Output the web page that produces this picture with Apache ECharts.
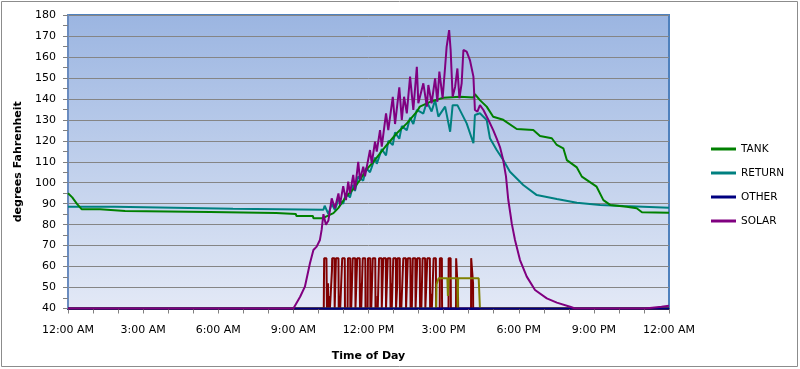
<!DOCTYPE html>
<html><head><meta charset="utf-8">
<script src="https://cdn.jsdelivr.net/npm/echarts@6/dist/echarts.min.js"></script>
<style>html,body{margin:0;padding:0;background:#fff}#c{width:800px;height:369px}</style>
</head><body><div id="c"></div>
<script>
// x = hour of day (0-24), y = degrees F
const hourLabels = ['12:00 AM','3:00 AM','6:00 AM','9:00 AM','12:00 PM','3:00 PM','6:00 PM','9:00 PM','12:00 AM'];
const legendNames = ['TANK','RETURN','OTHER','SOLAR'];

const tank = [[0,95],[0.17,93],[0.35,90],[0.55,87.3],[1.28,87.3],[1.3,86.5],[2.28,86.5],[2.3,86],[5.67,86],[5.7,85.5],[8.31,85.5],[8.35,85.1],[9.1,85.1],[9.12,84.1],[9.78,84.1],[9.8,83.1],[10.2,83.1],[10.3,83.8],[10.6,85.5],[10.8,88],[11.1,93.3],[11.4,97],[11.66,101.3],[11.9,106],[12.2,110],[12.46,114],[12.73,118],[13.13,123.6],[13.53,128.3],[13.93,133.9],[14.05,136.3],[14.46,138.6],[14.99,140.5],[15.66,141],[16.19,140.7],[16.25,142.2],[16.45,139.4],[16.72,136.3],[16.98,131.5],[17.38,130],[17.92,125.6],[18.58,125.1],[18.85,122.3],[19.32,121.2],[19.52,118],[19.78,116.4],[19.92,110.8],[20.32,107.3],[20.52,102.9],[21.11,98.1],[21.38,91.7],[21.65,89.4],[22.31,88.5],[22.71,87.8],[22.92,85.9],[24,85.7]];

const ret = [[0,88.5],[1.87,88.5],[1.9,87.6],[6.59,87.6],[6.6,87.2],[10.2,87.1],[10.25,89],[10.4,85],[10.53,90],[10.66,87],[10.8,92],[10.99,90],[11.1,95],[11.26,93],[11.39,99],[11.46,96],[11.59,103],[11.79,101],[11.9,107],[12.06,105],[12.26,112],[12.33,109],[12.53,116],[12.7,113],[12.79,120],[12.97,118],[13.06,124],[13.23,121],[13.33,127],[13.53,125],[13.66,131],[13.79,128],[13.93,134.7],[14.19,133],[14.33,138.6],[14.52,134],[14.66,139.4],[14.79,131.5],[15.06,136.3],[15.26,124.3],[15.36,137],[15.55,137],[15.92,128.3],[16.19,118.8],[16.25,132.3],[16.45,133.1],[16.72,129.9],[16.85,121.2],[17.12,115.6],[17.38,110.8],[17.65,105.2],[18.18,98.9],[18.72,94.1],[19.52,92.2],[20.32,90.4],[21.25,89.4],[22.18,88.9],[24,88.1]];

const other = [[0,40],[24,40]];

const solar = [[0,40],[9.0,40],[9.27,45.6],[9.46,50.4],[9.66,61.5],[9.8,67.9],[9.93,69.5],[10.06,72.7],[10.13,77.6],[10.2,85],[10.3,80],[10.4,82],[10.53,92.5],[10.66,87.8],[10.8,94.9],[10.86,89.4],[10.99,98.4],[11.1,91.7],[11.19,100.5],[11.26,94.9],[11.39,103.7],[11.46,96.5],[11.59,110],[11.66,101.3],[11.79,107.6],[11.86,103],[12.06,115.6],[12.13,109.2],[12.26,119.6],[12.33,114.8],[12.46,125.1],[12.53,117.2],[12.7,133.1],[12.79,125.1],[12.97,141],[13.06,128],[13.23,145.5],[13.33,130],[13.42,141],[13.53,133.1],[13.66,150.6],[13.79,134.7],[13.93,155.3],[13.99,137.9],[14.19,147.4],[14.33,136.3],[14.39,146.6],[14.52,137.9],[14.66,149.8],[14.75,138.6],[14.83,153],[14.96,140.3],[15.06,155.3],[15.12,164.8],[15.22,172.8],[15.28,163.3],[15.36,141],[15.46,145.8],[15.55,154.5],[15.63,140.3],[15.72,147.4],[15.79,163.3],[15.92,162.5],[16.05,158.5],[16.19,150.6],[16.25,134.7],[16.35,133.9],[16.45,137],[16.59,134.7],[16.79,129.9],[16.98,125.1],[17.12,121],[17.25,117],[17.38,110.8],[17.49,103],[17.58,92],[17.68,84],[17.72,80.6],[17.85,72.7],[18.05,63.1],[18.32,55.2],[18.65,48.8],[19.12,44.8],[19.52,42.8],[20.05,40.8],[20.25,40],[23.05,40],[23.12,40.8],[23.7,40.8],[23.77,41.3],[24,41.3]];

const pump = [[0,40],
[10.215,40],[10.22,52],[10.23,64],[10.32,64],[10.33,52],[10.34,40],[10.38,40],[10.385,52],[10.39,40],
[10.445,40],[10.45,46],[10.46,40],
[10.535,40],[10.54,58],[10.55,64],[10.64,64],[10.645,46],[10.65,40],
[10.695,40],[10.7,64],[10.8,64],[10.805,52],[10.81,40],[10.86,40],[10.865,46],[10.87,40],
[10.945,40],[10.95,64],[11.05,64],[11.055,58],[11.06,40],
[11.165,40],[11.17,52],[11.18,64],[11.27,64],[11.275,40],[11.3,40],[11.305,47],[11.31,40],
[11.365,40],[11.37,64],[11.47,64],[11.475,52],[11.48,40],
[11.545,40],[11.55,64],[11.65,64],[11.655,46],[11.66,40],[11.7,40],[11.705,52],[11.71,40],
[11.765,40],[11.77,64],[11.87,64],[11.875,58],[11.88,40],
[11.965,40],[11.97,52],[11.98,64],[12.07,64],[12.075,40],[12.1,40],[12.105,47],[12.11,40],
[12.165,40],[12.17,64],[12.27,64],[12.275,52],[12.28,40],
[12.36,40],[12.365,46],[12.37,40],[12.415,40],[12.42,64],[12.52,64],[12.525,58],[12.53,40],
[12.585,40],[12.59,64],[12.69,64],[12.695,52],[12.7,40],
[12.765,40],[12.77,64],[12.87,64],[12.875,46],[12.88,40],[12.92,40],[12.925,52],[12.93,40],
[12.985,40],[12.99,64],[13.09,64],[13.095,58],[13.1,40],
[13.145,40],[13.15,52],[13.16,64],[13.25,64],[13.255,40],[13.3,40],[13.305,47],[13.31,40],
[13.385,40],[13.39,64],[13.49,64],[13.495,52],[13.5,40],
[13.565,40],[13.57,64],[13.67,64],[13.675,58],[13.68,40],[13.72,40],[13.725,46],[13.73,40],
[13.765,40],[13.77,64],[13.87,64],[13.875,52],[13.88,40],
[13.945,40],[13.95,64],[14.05,64],[14.055,46],[14.06,40],[14.1,40],[14.105,52],[14.11,40],
[14.155,40],[14.16,64],[14.26,64],[14.265,58],[14.27,40],
[14.345,40],[14.35,64],[14.45,64],[14.455,52],[14.46,40],[14.52,40],[14.525,47],[14.53,40],
[14.595,40],[14.6,64],[14.69,64],[14.695,52],[14.7,40],
[14.845,40],[14.85,64],[14.93,64],[14.935,46],[14.94,40],
[15.195,40],[15.2,64],[15.28,64],[15.285,52],[15.29,40],
[15.495,40],[15.5,64],[15.57,64],[15.575,46],[15.58,40],
[16.095,40],[16.1,64],[16.17,64],[16.175,52],[16.18,40],[24,40]];

const aux = [[0,40],[14.7,40],[14.72,51.6],[14.8,54.4],[15.15,54.4],[15.17,46],[15.2,54.4],[15.55,54.4],[15.56,40],[15.58,54.4],[16.4,54.4],[16.45,40],[24,40]];

const chart = echarts.init(document.getElementById('c'), null, {renderer:'canvas'});
const font = 'DejaVu Sans';
function line(name, data, color){
  return {name:name, type:'line', data:data, symbol:'none', animation:false,
    lineStyle:{color:color, width:2}, itemStyle:{color:color}};
}
chart.setOption({
  animation:false,
  textStyle:{fontFamily:font},
  graphic:[{type:'rect', shape:{x:1.5,y:1.5,width:796,height:365}, style:{fill:'none', stroke:'#8c8c8c', lineWidth:1}, silent:true, z:-10}],
  grid:{left:68, top:15, right:131, bottom:60.5, show:true, borderColor:'#4f81bd', borderWidth:2,
    backgroundColor:new echarts.graphic.LinearGradient(0,0,0,1,[{offset:0,color:'#9bb5e1'},{offset:1,color:'#e3e9f6'}])},
  legend:{data:legendNames, orient:'vertical', left:706, top:137, icon:'rect', itemWidth:25, itemHeight:3, itemGap:10,
    textStyle:{fontFamily:font, fontSize:10.5, color:'#000', lineHeight:14}},
  xAxis:{type:'value', min:0, max:24, interval:1,
    name:'Time of Day', nameLocation:'middle', nameGap:42,
    nameTextStyle:{fontFamily:font, fontSize:11, fontWeight:'bold', color:'#000'},
    axisLine:{show:true, lineStyle:{color:'#000080', width:2}},
    axisTick:{show:true, length:5, lineStyle:{color:'#808080'}},
    splitLine:{show:false},
    axisLabel:{margin:16, fontSize:11, color:'#000', fontFamily:font, showMinLabel:true, showMaxLabel:true,
      formatter:function(v){ return (v % 3 === 0) ? hourLabels[v/3] : ''; }}},
  yAxis:{type:'value', min:40, max:180, interval:10,
    name:'degrees Fahrenheit', nameLocation:'middle', nameGap:44,
    nameTextStyle:{fontFamily:font, fontSize:11, fontWeight:'bold', color:'#000'},
    axisLine:{show:true, lineStyle:{color:'#6a8cc0', width:2}},
    axisTick:{show:true, length:5, lineStyle:{color:'#808080'}},
    minorTick:{show:true, splitNumber:2, length:5, lineStyle:{color:'#808080'}},
    splitLine:{show:true, lineStyle:{color:'#858585', width:1}},
    axisLabel:{margin:12, fontSize:11, color:'#000', fontFamily:font}},
  series:[
    Object.assign(line('', pump, '#800000'), {legendHoverLink:false}),
    Object.assign(line(' ', aux, '#808000'), {legendHoverLink:false}),
    line('RETURN', ret, '#008080'),
    line('TANK', tank, '#008000'),
    line('OTHER', other, '#000080'),
    line('SOLAR', solar, '#800080')
  ]
});
</script></body></html>
